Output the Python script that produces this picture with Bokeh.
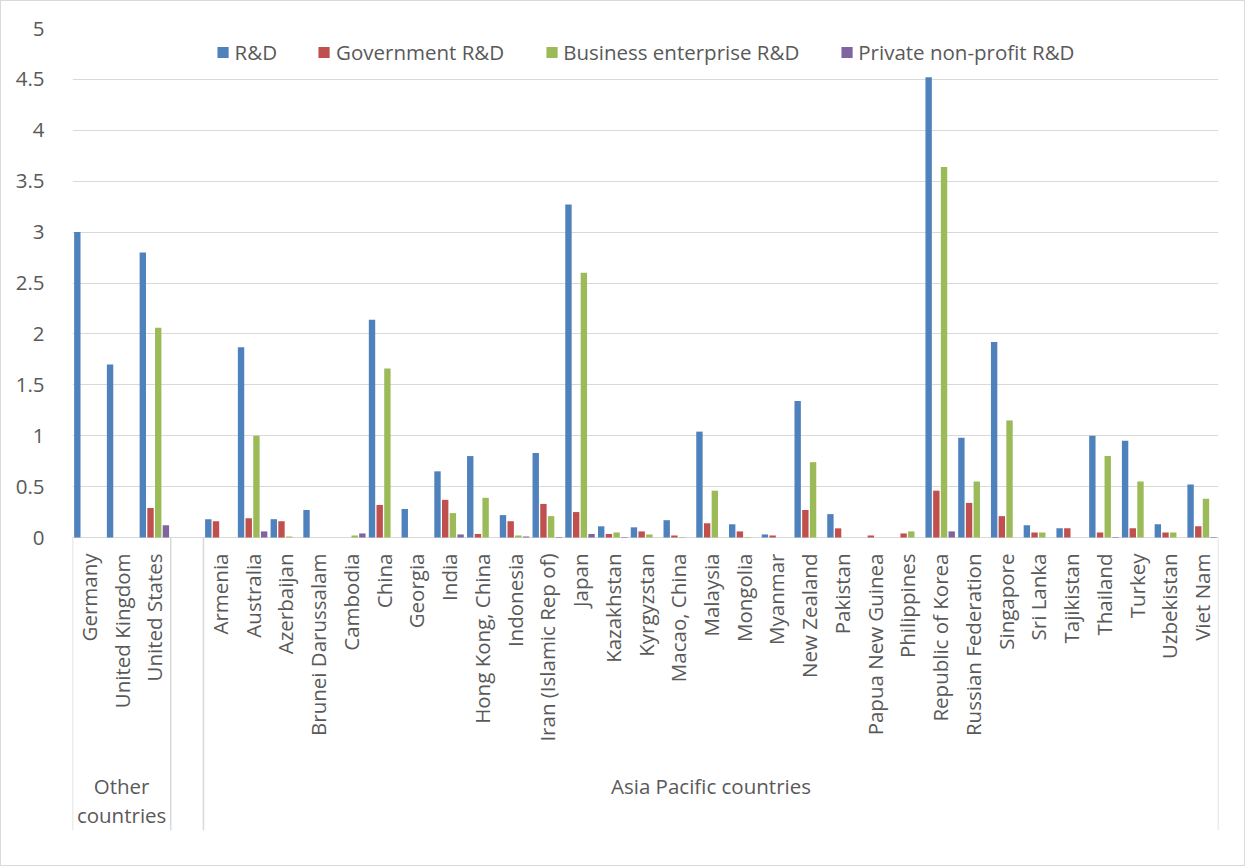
import math
from bokeh.plotting import figure
from bokeh.models import ColumnDataSource, FactorRange, Range1d, FixedTicker, NumeralTickFormatter
from bokeh.transform import dodge
from bokeh.core.properties import value
from bokeh.embed import file_html
from bokeh.resources import INLINE

# ---------------- data ----------------
group_names = ["Other countries", "Asia Pacific countries"]
other_countries = ["Germany", "United Kingdom", "United States"]
asia_countries = [
    "Armenia", "Australia", "Azerbaijan", "Brunei Darussalam", "Cambodia", "China",
    "Georgia", "India", "Hong Kong, China", "Indonesia", "Iran (Islamic Rep of)", "Japan",
    "Kazakhstan", "Kyrgyzstan", "Macao, China", "Malaysia", "Mongolia", "Myanmar",
    "New Zealand", "Pakistan", "Papua New Guinea", "Philippines", "Republic of Korea",
    "Russian Federation", "Singapore", "Sri Lanka", "Tajikistan", "Thailand", "Turkey",
    "Uzbekistan", "Viet Nam",
]
countries = other_countries + asia_countries
blank_factor = " "
x_factors = other_countries + [blank_factor] + asia_countries

series_names = ["R&D", "Government R&D", "Business enterprise R&D", "Private non-profit R&D"]

rd = [3.00, 1.70, 2.80,
      0.18, 1.87, 0.18, 0.27, 0.00, 2.14, 0.28, 0.65, 0.80, 0.22, 0.83, 3.27,
      0.11, 0.10, 0.17, 1.04, 0.13, 0.03, 1.34, 0.23, 0.00, 0.00, 4.52,
      0.98, 1.92, 0.12, 0.09, 1.00, 0.95, 0.13, 0.52]
gov_rd = [0.00, 0.00, 0.29,
          0.16, 0.19, 0.16, 0.00, 0.00, 0.32, 0.00, 0.37, 0.035, 0.16, 0.33, 0.25,
          0.035, 0.06, 0.02, 0.14, 0.06, 0.02, 0.27, 0.09, 0.02, 0.04, 0.46,
          0.34, 0.21, 0.05, 0.09, 0.05, 0.09, 0.05, 0.11]
bus_rd = [0.00, 0.00, 2.06,
          0.00, 1.00, 0.01, 0.00, 0.02, 1.66, 0.00, 0.24, 0.39, 0.02, 0.21, 2.60,
          0.05, 0.03, 0.005, 0.46, 0.005, 0.00, 0.74, 0.00, 0.00, 0.06, 3.64,
          0.55, 1.15, 0.05, 0.00, 0.80, 0.55, 0.05, 0.38]
pnp_rd = [0.00, 0.00, 0.12,
          0.00, 0.06, 0.00, 0.00, 0.04, 0.00, 0.00, 0.03, 0.00, 0.01, 0.005, 0.035,
          0.005, 0.00, 0.00, 0.00, 0.00, 0.00, 0.00, 0.00, 0.00, 0.00, 0.06,
          0.00, 0.00, 0.00, 0.00, 0.005, 0.00, 0.00, 0.005]

y_ticks = [0, 0.5, 1, 1.5, 2, 2.5, 3, 3.5, 4, 4.5, 5]

# ---------------- style ----------------
FONT = "Open Sans"
FS = "20.5px"
TXT = "#595959"
GRID = "#D9D9D9"
colors = ["#4F81BD", "#C0504D", "#9BBB59", "#8064A2"]
offsets = [-0.3525, -0.1175, 0.1175, 0.3525]
bar_w = 0.195
Y_MIN = -2.878

p = figure(width=1245, height=866,
           x_range=FactorRange(factors=x_factors, range_padding=0),
           y_range=Range1d(Y_MIN, 5),
           output_backend="svg", toolbar_location=None,
           min_border_left=71, min_border_top=27, min_border_right=28, min_border_bottom=37)
p.styles = {"border": "1px solid #D9D9D9"}
p.outline_line_color = None
p.background_fill_color = "white"
p.border_fill_color = "white"

p.xaxis.visible = False
p.xgrid.visible = False

p.yaxis.ticker = FixedTicker(ticks=y_ticks)
p.yaxis.formatter = NumeralTickFormatter(format="0.[0]")
p.yaxis.axis_line_color = None
p.yaxis.major_tick_line_color = None
p.yaxis.minor_tick_line_color = None
p.yaxis.major_label_text_font = FONT
p.yaxis.major_label_text_font_size = FS
p.yaxis.major_label_text_color = TXT
p.yaxis.major_label_standoff = 22
p.ygrid.grid_line_color = GRID
p.ygrid.grid_line_width = 1

src = ColumnDataSource(dict(country=countries, rd=rd, gov=gov_rd, bus=bus_rd, pnp=pnp_rd))
for col, name, color, off in zip(["rd", "gov", "bus", "pnp"], series_names, colors, offsets):
    p.vbar(x=dodge("country", off, range=p.x_range), top=col, bottom=0, width=bar_w,
           fill_color=color, line_color=None, source=src, legend_label=name)

# category labels (rotated, reading upward)
p.text(x="country", y=0, text="country", source=src, angle=math.pi / 2,
       text_align="right", text_baseline="middle", y_offset=16,
       text_font=value(FONT), text_font_size=FS, text_color=TXT)

# group labels
mid_other = other_countries[len(other_countries) // 2]
mid_asia = asia_countries[len(asia_countries) // 2]
p.text(x=[mid_asia], y=[0], text=[group_names[1]], y_offset=248,
       text_align="center", text_baseline="middle",
       text_font=value(FONT), text_font_size=FS, text_color=TXT)
p.text(x=[mid_other], y=[0], text=[group_names[0].replace(" ", "\n")], y_offset=263,
       text_align="center", text_baseline="middle", text_line_height=1.05,
       text_font=value(FONT), text_font_size=FS, text_color=TXT)

# group separators
sep_left = ColumnDataSource(dict(f=[other_countries[0], blank_factor, asia_countries[0]]))
sep_right = ColumnDataSource(dict(f=[asia_countries[-1]]))
p.segment(x0=dodge("f", -0.5, range=p.x_range), x1=dodge("f", -0.5, range=p.x_range),
          y0=0, y1=Y_MIN, line_color=GRID, line_width=1.5, source=sep_left)
p.segment(x0=dodge("f", 0.5, range=p.x_range), x1=dodge("f", 0.5, range=p.x_range),
          y0=0, y1=Y_MIN, line_color=GRID, line_width=1.5, source=sep_right)

lg = p.legend[0]
lg.location = "top_center"
lg.orientation = "horizontal"
lg.border_line_color = None
lg.background_fill_alpha = 0
lg.label_text_font = FONT
lg.label_text_font_size = FS
lg.label_text_color = TXT
lg.glyph_width = 14
lg.glyph_height = 14
lg.label_standoff = 5
lg.spacing = 40
lg.padding = 0
lg.margin = 10

open("out.html", "w").write(file_html(p, INLINE))
